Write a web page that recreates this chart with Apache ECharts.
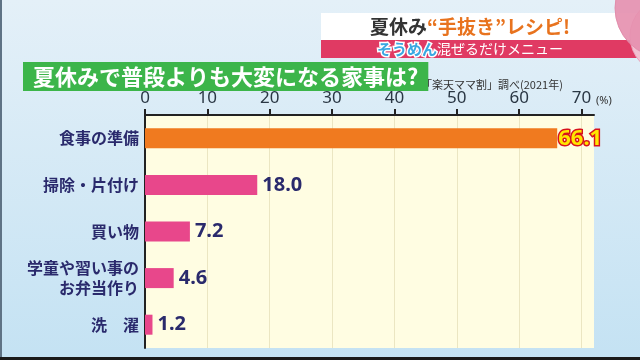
<!DOCTYPE html>
<html><head><meta charset="utf-8">
<script src="https://cdn.jsdelivr.net/npm/echarts@6/dist/echarts.min.js"></script>
<style>html,body{margin:0;padding:0;}#c{width:640px;height:360px;}</style>
</head><body><div id="c"></div>
<script>
const categories = ['食事の準備', '掃除・片付け', '買い物', '学童や習い事の\nお弁当作り', '洗　濯'];
const values = [66.1, 18.0, 7.2, 4.6, 1.2];
const highlightIndex = 0;
const tickValues = [0, 10, 20, 30, 40, 50, 60, 70];
const chartTitle = '夏休みで普段よりも大変になる家事は?';
const sourceText = '「楽天ママ割」調べ(2021年)';
const unitText = '(%)';

const JP = '"Noto Sans CJK JP", "Noto Sans", sans-serif';
const NUM = '"Noto Sans", "Liberation Sans", sans-serif';
const ORANGE = '#f07a1f', PINK = '#e8478b', NAVY = '#2a2a6c';

const data = values.map((v, i) => i === highlightIndex ? {
  value: v,
  itemStyle: { color: ORANGE },
  label: { color: '#ffe600', textBorderColor: '#d8121c', textBorderWidth: 3, fontSize: 22, distance: 1 }
} : { value: v, itemStyle: { color: PINK } });

const chart = echarts.init(document.getElementById('c'));
chart.setOption({
  animation: false,
  backgroundColor: { type: 'linear', x: 0, y: 0, x2: 0, y2: 1,
    colorStops: [{ offset: 0, color: '#e4f0f8' }, { offset: 1, color: '#c4e2f3' }] },
  title: [
    { text: chartTitle, left: 23, top: 62, padding: [2, 10, 2, 10], backgroundColor: '#3cb54a',
      textStyle: { color: '#fff', fontSize: 22, fontWeight: 'bold', fontFamily: JP, lineHeight: 25 } },
    { text: sourceText, left: 421, top: 79, padding: 0,
      textStyle: { color: '#333', fontSize: 11, fontWeight: 'normal', fontFamily: JP } },
    { text: unitText, left: 596, top: 95, padding: 0,
      textStyle: { color: '#333', fontSize: 11, fontWeight: 'normal', fontFamily: NUM } }
  ],
  graphic: [
    { type: 'rect', shape: { x: 321, y: 13, width: 319, height: 27 }, style: { fill: '#ffffff' }, silent: true },
    { type: 'rect', shape: { x: 321, y: 40, width: 319, height: 18 }, style: { fill: '#e03a63' }, silent: true },
    { type: 'circle', shape: { cx: 668, cy: 36, r: 38 }, style: { fill: '#f2c6d6', stroke: '#e7a3bb', lineWidth: 1, opacity: 0.95 }, silent: true },
    { type: 'circle', shape: { cx: 665, cy: 8, r: 50 }, style: { fill: '#e58fae', stroke: '#e08aa8', lineWidth: 1, opacity: 0.9 }, silent: true },
    { type: 'text', x: 470, y: 27, silent: true,
      style: { text: '{a|夏休み}{b|“手抜き”レシピ!}', align: 'center', verticalAlign: 'middle',
        rich: { a: { fill: '#333', fontSize: 19, fontWeight: 'bold', fontFamily: JP },
                b: { fill: '#e8731e', fontSize: 19, fontWeight: 'bold', fontFamily: JP } } } },
    { type: 'text', x: 470, y: 49, silent: true,
      style: { text: '{a|そうめん}{b|混ぜるだけメニュー}', align: 'center', verticalAlign: 'middle',
        rich: { a: { fill: '#3aa8e2', stroke: '#fff', lineWidth: 3, fontSize: 15, fontWeight: 'bold', fontFamily: JP },
                b: { fill: '#fff', fontSize: 14, fontWeight: 'normal', fontFamily: JP } } } },
    { type: 'rect', shape: { x: 0, y: 0, width: 2, height: 360 }, style: { fill: '#5f7385' }, silent: true },
    { type: 'rect', shape: { x: 0, y: 357, width: 640, height: 3 }, style: { fill: '#1a1a1a' }, silent: true }
  ],
  grid: { left: 145, top: 115, width: 449, bottom: 12, show: true, backgroundColor: '#fffde2', borderWidth: 0 },
  xAxis: {
    type: 'value', position: 'top', min: 0, max: 72, interval: 10,
    axisLine: { show: true, lineStyle: { color: '#222', width: 2 } },
    axisTick: { show: true, length: 6, lineStyle: { color: '#222', width: 2 }, customValues: tickValues },
    axisLabel: { customValues: tickValues, margin: 8, color: '#2a3744', fontSize: 17, fontFamily: NUM },
    splitLine: { show: true, lineStyle: { color: '#ebe6c2', width: 1 } }
  },
  yAxis: {
    type: 'category', data: categories, inverse: true,
    axisLine: { show: true, lineStyle: { color: '#222', width: 2 } },
    axisTick: { show: false },
    axisLabel: { color: NAVY, fontSize: 16, fontWeight: 'bold', fontFamily: JP, margin: 6, lineHeight: 20 }
  },
  series: [{
    type: 'bar', data: data, barWidth: 20,
    label: { show: true, position: 'right', distance: 5, formatter: p => p.value.toFixed(1),
      color: NAVY, fontSize: 20, fontWeight: 'bold', fontFamily: NUM }
  }]
});
</script></body></html>
